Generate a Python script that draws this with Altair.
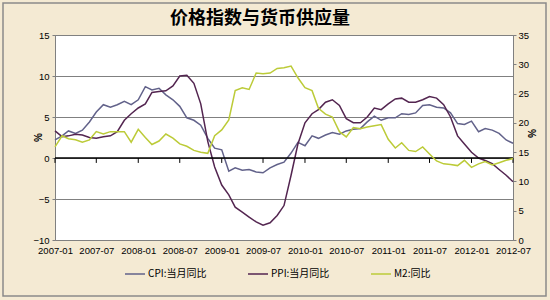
import altair as alt
import pandas as pd

# ---- data (monthly, 2007-01 .. 2012-07) ----
years_months = [(y, m) for y in range(2007, 2013) for m in range(1, 13)][:67]
dates = [f"{y}-{m:02d}-01" for y, m in years_months]

cpi = [2.2, 2.7, 3.3, 3.0, 3.4, 4.4, 5.6, 6.5, 6.2, 6.5, 6.9, 6.5,
       7.1, 8.7, 8.3, 8.5, 7.7, 7.1, 6.3, 4.9, 4.6, 4.0, 2.4, 1.2,
       1.0, -1.6, -1.2, -1.5, -1.4, -1.7, -1.8, -1.2, -0.8, -0.5, 0.6, 1.9,
       1.5, 2.7, 2.4, 2.8, 3.1, 2.9, 3.3, 3.5, 3.6, 4.4, 5.1, 4.6,
       4.9, 4.9, 5.4, 5.3, 5.5, 6.4, 6.5, 6.2, 6.1, 5.5, 4.2, 4.1,
       4.5, 3.2, 3.6, 3.4, 3.0, 2.2, 1.8]

ppi = [3.3, 2.6, 2.7, 2.9, 2.8, 2.5, 2.4, 2.6, 2.7, 3.2, 4.6, 5.4,
       6.1, 6.6, 8.0, 8.1, 8.2, 8.8, 10.0, 10.1, 9.1, 6.6, 2.0, -1.1,
       -3.3, -4.5, -6.0, -6.6, -7.2, -7.8, -8.2, -7.9, -7.0, -5.8, -2.1, 1.7,
       4.3, 5.4, 5.9, 6.8, 7.1, 6.4, 4.8, 4.3, 4.3, 5.0, 6.1, 5.9,
       6.6, 7.2, 7.3, 6.8, 6.8, 7.1, 7.5, 7.3, 6.5, 5.0, 2.7, 1.7,
       0.7, 0.0, -0.3, -0.7, -1.4, -2.1, -2.9]

m2 = [15.9, 17.8, 17.3, 17.1, 16.7, 17.1, 18.5, 18.1, 18.5, 18.5, 18.5, 16.7,
      18.9, 17.5, 16.3, 16.9, 18.1, 17.4, 16.4, 16.0, 15.3, 15.0, 14.8, 17.8,
      18.8, 20.5, 25.5, 26.0, 25.7, 28.5, 28.4, 28.5, 29.3, 29.4, 29.7, 27.7,
      26.0, 25.5, 22.5, 21.5, 21.0, 18.5, 17.6, 19.2, 19.0, 19.3, 19.5, 19.7,
      17.2, 15.7, 16.6, 15.3, 15.1, 15.9, 14.7, 13.5, 13.0, 12.9, 12.7, 13.6,
      12.4, 13.0, 13.4, 12.8, 13.2, 13.6, 13.9]

series_names = ["CPI:当月同比", "PPI:当月同比", "M2:同比"]
series_colors = ["#62628a", "#532550", "#bccb38"]

tick_labels = ["2007-01", "2007-07", "2008-01", "2008-07", "2009-01", "2009-07",
               "2010-01", "2010-07", "2011-01", "2011-07", "2012-01", "2012-07"]
left_ticks = [-10, -5, 0, 5, 10, 15]
right_ticks = [0, 5, 10, 15, 20, 25, 30, 35]
title_text = "价格指数与货币供应量"

# ---- tables ----
left_df = pd.DataFrame({
    "date": dates * 2,
    "series": [series_names[0]] * len(dates) + [series_names[1]] * len(dates),
    "value": cpi + ppi,
})
right_df = pd.DataFrame({"date": dates, "series": series_names[2], "m2": m2})
tick_df = pd.DataFrame({"date": [t + "-01" for t in tick_labels]})

tick_dt = [alt.DateTime(year=int(t[:4]), month=int(t[5:]), date=1, utc=True) for t in tick_labels]
x_scale = alt.Scale(type="utc", domain=[tick_dt[0], tick_dt[-1]])
LF = "Liberation Sans"
CJK = "Noto Sans CJK SC"

x_axis = alt.Axis(values=tick_dt, format="%Y-%m", title=None, ticks=False,
                  domain=False, grid=False, labelFontSize=9.5, labelFont=LF,
                  labelColor="black", labelPadding=5, labelFlush=False)
left_axis = alt.Axis(orient="left", values=left_ticks, title="%", grid=True,
                     gridColor="#808080", gridOpacity=1, tickSize=3, tickColor="#808080",
                     domainColor="#808080", labelFontSize=9.5, labelFont=LF,
                     labelColor="black", labelPadding=3, titleFontSize=10,
                     titleFont=LF, titleFontWeight="bold", titleX=-17, titleY=102,
                     titleAlign="center", titleBaseline="middle")
right_axis = alt.Axis(orient="right", values=right_ticks, title="%", grid=False,
                      tickSize=3, tickColor="#808080", domainColor="#808080",
                      labelFontSize=9.5, labelFont=LF, labelColor="black",
                      labelPadding=2, titleFontSize=10, titleFont=LF,
                      titleFontWeight="bold", titleAngle=90, titleX=17, titleY=98,
                      titleAlign="center", titleBaseline="middle")

x_enc = alt.X("date:T", scale=x_scale, axis=x_axis)
color_enc = alt.Color("series:N",
                      scale=alt.Scale(domain=series_names, range=series_colors),
                      legend=alt.Legend(title=None, orient="none", legendX=69, legendY=228,
                                        direction="horizontal", symbolType="stroke",
                                        symbolSize=400, symbolStrokeWidth=1.5,
                                        labelFont=CJK, labelFontSize=10, labelColor="black",
                                        labelOffset=2, columnPadding=38))

y_left_scale = alt.Scale(domain=[-10, 15], nice=False, zero=False)

left_lines = alt.Chart(left_df).mark_line(strokeWidth=1.5).encode(
    x=x_enc,
    y=alt.Y("value:Q", scale=y_left_scale, axis=left_axis),
    color=color_enc,
    detail="series:N",
)

zero_rule = alt.Chart(pd.DataFrame({"value": [0]})).mark_rule(color="black", strokeWidth=1.5).encode(
    y=alt.Y("value:Q", scale=y_left_scale, axis=left_axis)
)

x_ticks = alt.Chart(tick_df.assign(value=0, value2=-0.6)).mark_rule(color="black", strokeWidth=1).encode(
    x=alt.X("date:T", scale=x_scale, axis=x_axis),
    y=alt.Y("value:Q", scale=y_left_scale, axis=left_axis),
    y2="value2:Q",
)

border = alt.Chart(pd.DataFrame({"a": [0]})).mark_rect(
    filled=False, stroke="#8a8a8a", strokeWidth=1.5
).encode(x=alt.value(-52), x2=alt.value(491), y=alt.value(-32), y2=alt.value(261))

title_mark = alt.Chart(pd.DataFrame({"t": [title_text]})).mark_text(
    font=CJK, fontSize=18, fontWeight="bold", color="black", align="center", baseline="middle"
).encode(text="t:N", x=alt.value(205), y=alt.value(-16))

left = alt.layer(left_lines, zero_rule, x_ticks, border, title_mark)

right = alt.Chart(right_df).mark_line(strokeWidth=1.5).encode(
    x=x_enc,
    y=alt.Y("m2:Q", scale=alt.Scale(domain=[0, 35], nice=False, zero=False), axis=right_axis),
    color=color_enc,
)

chart = alt.layer(left, right).resolve_scale(y="independent").properties(
    width=458, height=205,
    autosize=alt.AutoSizeParams(type="none"),
    padding={"left": 55, "top": 35, "right": 37, "bottom": 60},
    background="#f4ead3",
).configure_view(fill="white", stroke="#808080", strokeWidth=1)

chart.save("out.html", embed_options={"renderer": "svg", "actions": False})
